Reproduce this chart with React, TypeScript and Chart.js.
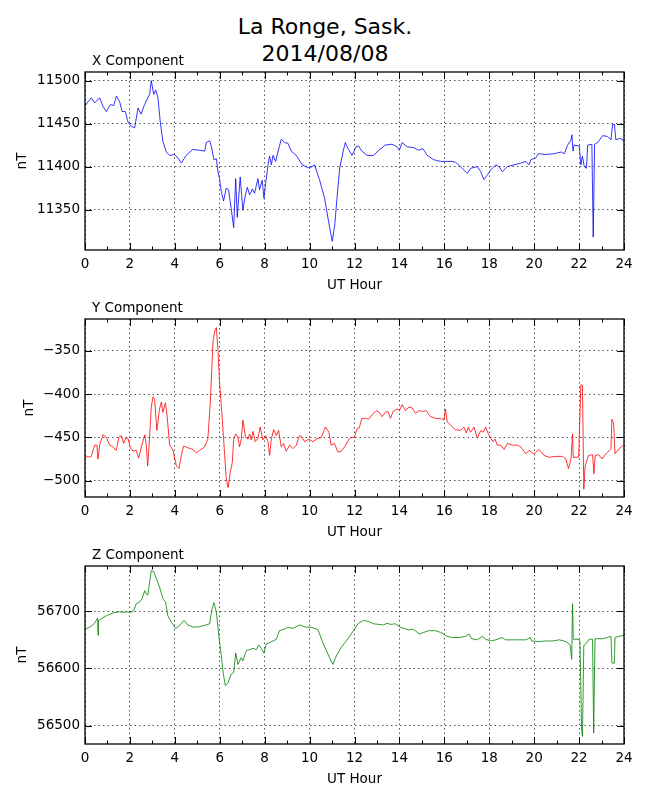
import { useEffect, useRef } from "react"
import { Chart, registerables } from "chart.js"

Chart.register(...registerables)

// UT hours and field values (nT)
const xHours = [0, 0.09, 0.28, 0.43, 0.65, 0.8, 0.95, 1.13, 1.28, 1.4, 1.55, 1.65, 1.8, 1.91, 2.06, 2.21, 2.36, 2.5, 2.65, 2.8, 2.88, 2.95, 3.06, 3.15, 3.25, 3.35, 3.47, 3.62, 3.77, 3.99, 4.14, 4.29, 4.5, 4.8, 5.1, 5.33, 5.4, 5.55, 5.63, 5.74, 5.85, 5.92, 5.99, 6.07, 6.17, 6.29, 6.39, 6.51, 6.62, 6.71, 6.78, 6.91, 7.03, 7.14, 7.23, 7.33, 7.45, 7.55, 7.7, 7.77, 7.89, 7.97, 8.04, 8.15, 8.22, 8.3, 8.37, 8.49, 8.59, 8.74, 8.89, 9.04, 9.18, 9.41, 9.67, 10.0, 10.22, 10.45, 10.67, 10.82, 10.93, 11.01, 11.12, 11.22, 11.34, 11.49, 11.59, 11.71, 11.89, 12.07, 12.18, 12.33, 12.56, 12.85, 13.08, 13.37, 13.67, 13.9, 14.0, 14.12, 14.34, 14.64, 14.86, 15.04, 15.24, 15.53, 15.83, 16.05, 16.35, 16.5, 16.72, 17.02, 17.17, 17.47, 17.62, 17.76, 17.91, 18.06, 18.29, 18.43, 18.58, 18.81, 19.1, 19.4, 19.63, 19.77, 19.85, 20.07, 20.19, 20.52, 20.89, 21.19, 21.34, 21.49, 21.64, 21.68, 21.73, 21.78, 22.01, 22.08, 22.15, 22.23, 22.33, 22.38, 22.57, 22.63, 22.69, 22.83, 23.05, 23.27, 23.42, 23.49, 23.57, 23.64, 23.82, 24.0]
const xValues = [11470, 11474, 11480, 11474, 11480, 11470, 11464, 11472, 11471, 11482, 11475, 11464, 11464, 11452, 11447, 11445, 11468, 11461, 11472, 11480, 11484, 11500, 11484, 11489, 11480, 11452, 11429, 11417, 11413, 11414, 11410, 11404, 11413, 11420, 11419, 11418, 11428, 11430, 11423, 11408, 11409, 11394, 11386, 11371, 11360, 11375, 11373, 11351, 11329, 11386, 11341, 11388, 11349, 11367, 11376, 11367, 11374, 11369, 11386, 11373, 11384, 11363, 11380, 11402, 11412, 11402, 11413, 11406, 11417, 11432, 11428, 11427, 11418, 11413, 11402, 11398, 11402, 11384, 11363, 11340, 11324, 11313, 11332, 11363, 11398, 11417, 11428, 11421, 11413, 11423, 11424, 11418, 11413, 11413, 11419, 11425, 11426, 11423, 11419, 11428, 11423, 11422, 11419, 11421, 11413, 11408, 11406, 11406, 11406, 11405, 11400, 11392, 11398, 11400, 11394, 11385, 11390, 11396, 11402, 11400, 11394, 11400, 11402, 11404, 11406, 11402, 11408, 11410, 11415, 11414, 11415, 11417, 11415, 11425, 11431, 11437, 11418, 11425, 11424, 11402, 11412, 11400, 11398, 11425, 11426, 11318, 11426, 11428, 11436, 11435, 11431, 11449, 11449, 11431, 11433, 11430]

const yHours = [0, 0.13, 0.28, 0.43, 0.53, 0.58, 0.65, 0.8, 0.95, 1.1, 1.25, 1.39, 1.51, 1.62, 1.72, 1.81, 1.91, 2.02, 2.14, 2.28, 2.39, 2.51, 2.66, 2.73, 2.79, 2.88, 2.95, 3.03, 3.1, 3.2, 3.32, 3.4, 3.47, 3.58, 3.65, 3.77, 3.92, 4.07, 4.18, 4.29, 4.39, 4.58, 4.81, 4.96, 5.1, 5.33, 5.47, 5.58, 5.7, 5.77, 5.85, 5.92, 5.99, 6.11, 6.22, 6.29, 6.37, 6.47, 6.56, 6.62, 6.71, 6.81, 6.88, 6.96, 7.03, 7.15, 7.26, 7.33, 7.4, 7.48, 7.58, 7.7, 7.8, 7.92, 8.04, 8.15, 8.22, 8.29, 8.4, 8.52, 8.62, 8.74, 8.84, 8.96, 9.11, 9.26, 9.41, 9.55, 9.67, 9.78, 9.97, 10.15, 10.3, 10.52, 10.71, 10.86, 10.96, 11.11, 11.26, 11.41, 11.56, 11.75, 11.85, 12.0, 12.11, 12.21, 12.33, 12.48, 12.63, 12.78, 12.96, 13.11, 13.23, 13.37, 13.49, 13.6, 13.72, 13.9, 14.0, 14.12, 14.27, 14.42, 14.57, 14.71, 14.89, 15.04, 15.19, 15.38, 15.61, 15.83, 15.98, 16.05, 16.13, 16.28, 16.5, 16.72, 16.87, 16.98, 17.07, 17.17, 17.32, 17.47, 17.62, 17.73, 17.84, 17.96, 18.06, 18.17, 18.26, 18.36, 18.51, 18.66, 18.81, 19.03, 19.25, 19.4, 19.63, 19.77, 20.0, 20.22, 20.44, 20.67, 20.96, 21.26, 21.41, 21.53, 21.64, 21.71, 21.74, 21.98, 22.08, 22.15, 22.21, 22.27, 22.42, 22.6, 22.66, 22.72, 22.87, 23.02, 23.2, 23.42, 23.46, 23.54, 23.6, 23.79, 23.97]
const yValues = [-471, -473, -472, -459, -459, -475, -459, -447, -450, -459, -461, -465, -450, -448, -457, -451, -451, -462, -466, -465, -474, -461, -447, -459, -483, -448, -415, -403, -406, -442, -417, -409, -421, -410, -424, -459, -465, -483, -486, -471, -460, -462, -464, -468, -465, -461, -452, -409, -339, -328, -323, -349, -386, -428, -471, -498, -508, -490, -479, -452, -446, -450, -461, -452, -430, -450, -452, -446, -453, -443, -455, -451, -438, -453, -448, -455, -471, -453, -441, -448, -442, -461, -457, -466, -459, -463, -459, -448, -450, -455, -452, -455, -452, -450, -438, -444, -459, -457, -467, -466, -461, -452, -450, -450, -440, -439, -428, -428, -429, -424, -419, -421, -426, -421, -420, -428, -420, -417, -419, -412, -419, -415, -416, -422, -419, -420, -419, -426, -428, -428, -430, -417, -432, -436, -441, -442, -438, -445, -438, -444, -438, -451, -442, -444, -438, -446, -451, -455, -452, -459, -459, -464, -457, -459, -459, -461, -469, -465, -469, -464, -471, -473, -472, -472, -475, -486, -475, -446, -473, -473, -389, -390, -510, -483, -471, -470, -492, -471, -470, -475, -469, -463, -429, -434, -469, -463, -459]

const zHours = [0, 0.21, 0.43, 0.56, 0.58, 0.6, 0.73, 0.95, 1.25, 1.54, 1.69, 1.84, 2.02, 2.17, 2.28, 2.43, 2.54, 2.66, 2.73, 2.8, 2.88, 2.95, 3.06, 3.18, 3.32, 3.47, 3.59, 3.69, 3.84, 4.04, 4.21, 4.41, 4.58, 4.81, 5.1, 5.4, 5.55, 5.64, 5.74, 5.85, 5.96, 6.07, 6.15, 6.25, 6.37, 6.51, 6.62, 6.71, 6.81, 6.96, 7.03, 7.18, 7.33, 7.48, 7.63, 7.73, 7.85, 7.97, 8.07, 8.22, 8.37, 8.52, 8.66, 8.89, 9.04, 9.26, 9.55, 9.85, 10.07, 10.37, 10.59, 10.82, 10.96, 11.04, 11.19, 11.41, 11.63, 11.85, 12.18, 12.41, 12.63, 12.85, 13.08, 13.3, 13.45, 13.6, 13.82, 14.04, 14.3, 14.42, 14.57, 14.71, 14.89, 15.09, 15.31, 15.61, 15.83, 15.98, 16.05, 16.35, 16.65, 16.95, 17.1, 17.21, 17.47, 17.69, 17.84, 18.06, 18.29, 18.58, 18.73, 19.03, 19.33, 19.63, 19.82, 19.89, 20.22, 20.52, 20.82, 21.11, 21.34, 21.49, 21.6, 21.67, 21.71, 21.74, 21.98, 22.04, 22.11, 22.15, 22.21, 22.3, 22.45, 22.6, 22.65, 22.71, 23.05, 23.42, 23.46, 23.57, 23.6, 23.79, 24.0]
const zValues = [56669, 56672, 56679, 56688, 56658, 56684, 56687, 56692, 56697, 56699, 56698, 56699, 56698, 56701, 56713, 56716, 56722, 56736, 56730, 56728, 56751, 56771, 56769, 56757, 56742, 56722, 56716, 56692, 56681, 56670, 56675, 56684, 56676, 56672, 56673, 56676, 56678, 56701, 56715, 56698, 56657, 56622, 56593, 56570, 56575, 56590, 56593, 56627, 56607, 56619, 56613, 56631, 56633, 56635, 56633, 56641, 56635, 56627, 56643, 56645, 56648, 56651, 56666, 56669, 56672, 56670, 56676, 56672, 56672, 56668, 56645, 56625, 56613, 56607, 56622, 56637, 56648, 56660, 56679, 56684, 56682, 56678, 56677, 56676, 56679, 56677, 56678, 56672, 56669, 56667, 56669, 56666, 56660, 56663, 56666, 56666, 56663, 56660, 56657, 56654, 56654, 56656, 56660, 56652, 56650, 56656, 56651, 56648, 56650, 56654, 56650, 56650, 56650, 56650, 56654, 56648, 56647, 56648, 56648, 56650, 56648, 56645, 56641, 56616, 56713, 56651, 56651, 56648, 56496, 56481, 56640, 56643, 56651, 56651, 56487, 56652, 56652, 56656, 56610, 56609, 56654, 56656, 56658]

// tick labels
const hourTicks = [0, 2, 4, 6, 8, 10, 12, 14, 16, 18, 20, 22, 24]
const xTicks = [11350, 11400, 11450, 11500]
const yTicks = [-500, -450, -400, -350]
const zTicks = [56500, 56600, 56700]

const FONT = "'DejaVu Sans', sans-serif"

const fmt = (v: number) => (v < 0 ? "\u2212" + Math.abs(v) : String(v))

// matplotlib-style frame: full box, inward ticks, panel label above the axes
const framePlugin = {
  id: "frame",
  afterDatasetsDraw(chart: any, _args: any, opts: any) {
    const { ctx, chartArea: a, scales } = chart
    ctx.save()
    ctx.strokeStyle = "#000"
    ctx.lineWidth = 1
    ctx.beginPath()
    for (let h = 0; h <= 24; h++) {
      const px = Math.round(scales.x.getPixelForValue(h)) + 0.5
      const len = h % 2 === 0 ? 7 : 3.5
      ctx.moveTo(px, a.bottom)
      ctx.lineTo(px, a.bottom - len)
      ctx.moveTo(px, a.top)
      ctx.lineTo(px, a.top + len)
    }
    scales.y.ticks.forEach((t: any) => {
      const py = Math.round(scales.y.getPixelForValue(t.value)) + 0.5
      ctx.moveTo(a.left, py)
      ctx.lineTo(a.left + 7, py)
      ctx.moveTo(a.right, py)
      ctx.lineTo(a.right - 7, py)
    })
    ctx.stroke()
    ctx.lineWidth = 1.3
    ctx.strokeRect(a.left, a.top, a.right - a.left, a.bottom - a.top)
    ctx.fillStyle = "#000"
    ctx.font = "13.5px " + FONT
    ctx.textAlign = "left"
    ctx.textBaseline = "alphabetic"
    ctx.fillText(opts.label, a.left + 7, a.top - 7)
    ctx.restore()
  },
}

type PanelProps = {
  top: number
  label: string
  hours: number[]
  values: number[]
  ticks: number[]
  color: string
  yMin: number
  yMax: number
  nTPad: number
}

function Panel({ top, label, hours, values, ticks, color, yMin, yMax, nTPad }: PanelProps) {
  const chartRef = useRef<HTMLCanvasElement>(null)

  useEffect(() => {
    if (!chartRef.current) return
    const font = { family: FONT, size: 13.5 }
    const chart = new Chart(chartRef.current, {
      type: "line",
      data: {
        datasets: [
          {
            data: hours.map((h, i) => ({ x: h, y: values[i] })),
            borderColor: color,
            borderWidth: 0.8,
            pointRadius: 0,
            tension: 0,
            fill: false,
          },
        ],
      },
      options: {
        animation: false,
        responsive: false,
        layout: { padding: { top: 72, left: 0, right: 26, bottom: 0 } },
        plugins: {
          legend: { display: false },
          tooltip: { enabled: false },
          frame: { label },
        } as any,
        scales: {
          x: {
            type: "linear",
            min: 0,
            max: 24,
            afterBuildTicks: (s: any) => {
              s.ticks = hourTicks.map((v) => ({ value: v }))
            },
            afterFit: (s: any) => {
              s.height = 50
            },
            grid: { color: "rgba(0,0,0,0.85)", lineWidth: 0.8, drawTicks: false },
            border: { display: false, dash: [1.5, 3] },
            ticks: { color: "#000", font, padding: 6, maxRotation: 0, autoSkip: false },
            title: { display: true, text: "UT Hour", color: "#000", font, padding: { top: 0, bottom: 6 } },
          },
          y: {
            type: "linear",
            min: yMin,
            max: yMax,
            afterBuildTicks: (s: any) => {
              s.ticks = ticks.map((v) => ({ value: v }))
            },
            afterFit: (s: any) => {
              s.width = 85
            },
            grid: { color: "rgba(0,0,0,0.85)", lineWidth: 0.8, drawTicks: false },
            border: { display: false, dash: [1.5, 3] },
            ticks: { color: "#000", font, padding: 5, callback: (v: any) => fmt(Number(v)) },
            title: { display: true, text: "nT", color: "#000", font, padding: { top: nTPad, bottom: 0 } },
          },
        },
      },
      plugins: [framePlugin],
    })

    return () => {
      chart.destroy()
    }
  }, [])

  return (
    <canvas
      ref={chartRef}
      width={650}
      height={300}
      style={{ position: "absolute", left: 0, top, width: 650, height: 300 }}
    />
  )
}

export default function App() {
  useEffect(() => {
    document.body.style.margin = "0"
  }, [])

  return (
    <div style={{ position: "relative", width: 650, height: 800, background: "#fff", overflow: "hidden" }}>
      <div
        style={{
          position: "absolute",
          top: 13,
          left: 0,
          width: 650,
          textAlign: "center",
          fontFamily: FONT,
          fontSize: 22,
          lineHeight: "27px",
          color: "#000",
        }}
      >
        La Ronge, Sask.
        <br />
        2014/08/08
      </div>
      <Panel top={0} label="X Component" hours={xHours} values={xValues} ticks={xTicks} color="#0000ff" yMin={11303} yMax={11510} nTPad={14} />
      <Panel top={247} label="Y Component" hours={yHours} values={yValues} ticks={yTicks} color="#ff0000" yMin={-519} yMax={-313} nTPad={21} />
      <Panel top={494} label="Z Component" hours={zHours} values={zValues} ticks={zTicks} color="#008000" yMin={56468} yMax={56779} nTPad={14} />
    </div>
  )
}
